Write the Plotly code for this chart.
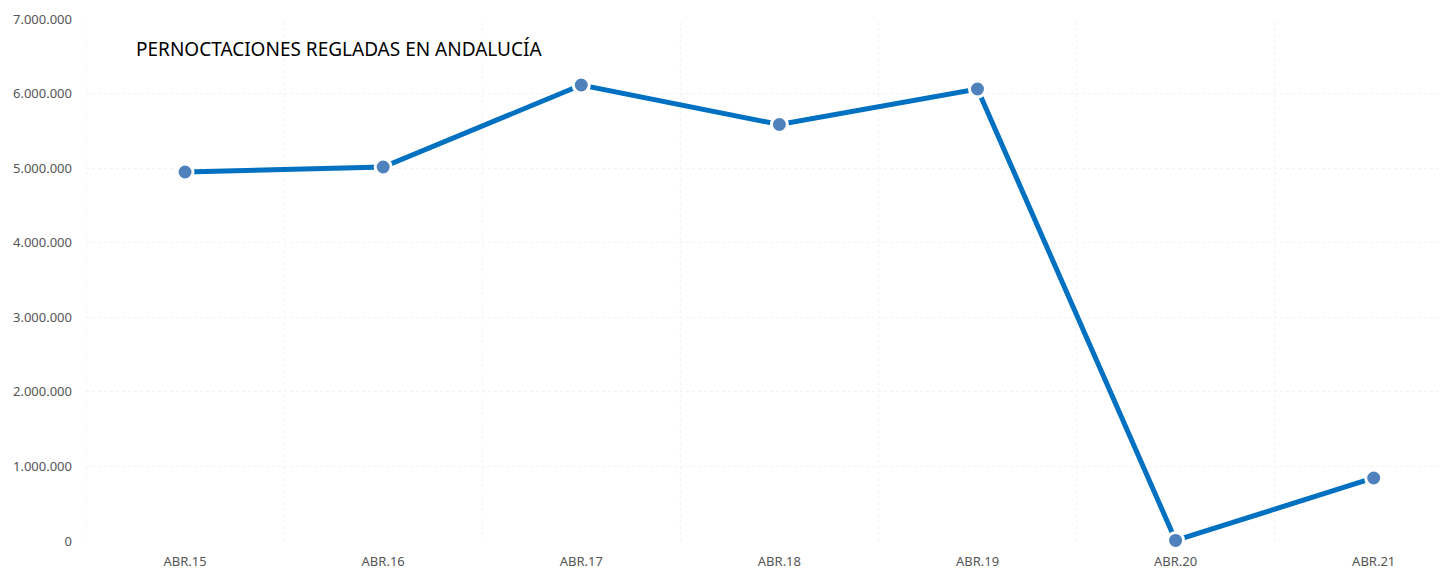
import plotly.graph_objects as go

categories = ["ABR.15", "ABR.16", "ABR.17", "ABR.18", "ABR.19", "ABR.20", "ABR.21"]
pernoctaciones = [4948000, 5015000, 6115000, 5585000, 6061000, 8000, 845000]
y_ticks = [0, 1000000, 2000000, 3000000, 4000000, 5000000, 6000000, 7000000]

fig = go.Figure()
fig.add_trace(go.Scatter(
    x=list(range(len(categories))), y=pernoctaciones, mode="lines+markers",
    line=dict(color="#0070C0", width=5),
    marker=dict(size=16, color="#4F81BD", line=dict(color="white", width=3)),
    cliponaxis=False, showlegend=False,
))

# page body has an 8px margin, so the figure is drawn 8px smaller and offset
fig.update_layout(
    width=1439, height=561,
    margin=dict(l=78, r=0, t=11, b=28, autoexpand=False),
    paper_bgcolor="white", plot_bgcolor="white",
    separators=",.",
    font=dict(family="Noto Sans", size=13, color="#555555"),
    annotations=[dict(
        text="PERNOCTACIONES REGLADAS EN ANDALUCÍA", xref="paper", yref="paper",
        x=(134 - 86) / 1361, y=(541 - 49) / 522, xanchor="left", yanchor="middle",
        showarrow=False, font=dict(family="Noto Sans", size=19, color="black"),
    )],
)
fig.update_xaxes(
    range=[-0.5, 6.37], tickvals=list(range(len(categories))), ticktext=categories,
    showgrid=False, zeroline=False, showline=False, ticks="", automargin=False,
    ticklabelstandoff=11,
    tickfont=dict(size=13, color="#555555"),
)
# category boundary gridlines
for b in [i - 0.5 for i in range(len(categories) + 1)]:
    fig.add_shape(type="line", xref="x", yref="paper", x0=b, x1=b, y0=0, y1=1,
                  line=dict(color="#F2F2F2", width=1, dash="3px,3px"), layer="below")
fig.update_yaxes(
    range=[0, 7000000], tickvals=y_ticks, tickformat=",d",
    showgrid=True, gridcolor="#F2F2F2", griddash="3px,3px", gridwidth=1,
    zeroline=False, showline=False, ticks="", ticklabelstandoff=13, automargin=False,
    tickfont=dict(size=13, color="#555555"),
)
fig.write_html("out.html")
